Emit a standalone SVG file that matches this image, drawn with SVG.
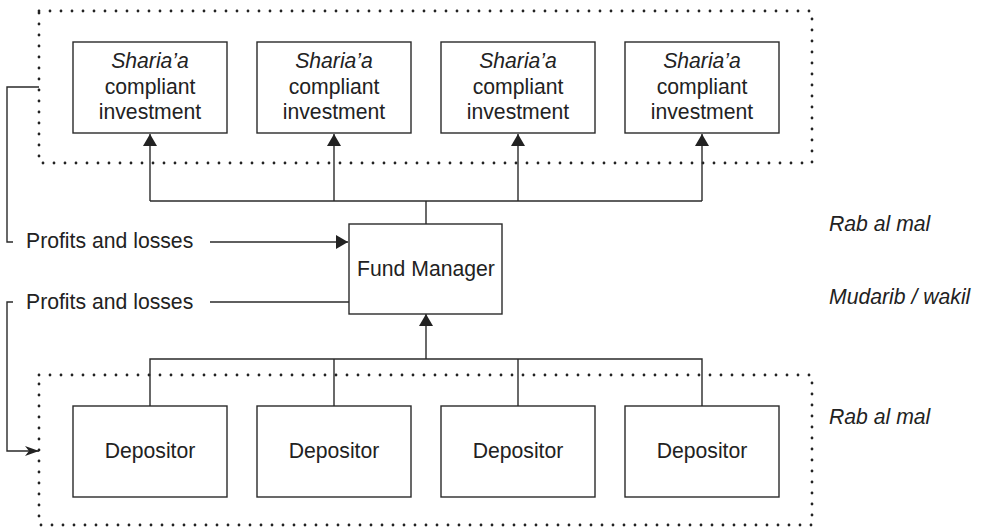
<svg xmlns="http://www.w3.org/2000/svg" width="982" height="527" viewBox="0 0 982 527">
  <style>
    text { font-family: "Liberation Sans", Arial, Helvetica, sans-serif; font-size: 21.2px; fill: #222; }
    .it { font-style: italic; }
    .box { fill: #fff; stroke: #2a2a2a; stroke-width: 1.4; }
    .dots { fill: none; stroke: #222; stroke-width: 2.8; stroke-linecap: round; stroke-dasharray: 0 11; }
    .line { fill: none; stroke: #2a2a2a; stroke-width: 1.4; }
  </style>
  <defs>
    <marker id="arrow" viewBox="0 0 12 14" refX="12" refY="7" markerWidth="12" markerHeight="14" markerUnits="userSpaceOnUse" orient="auto">
      <path d="M0,0 L12,7 L0,14 Z" fill="#222"/>
    </marker>
    <marker id="arrowSmall" viewBox="0 0 14 10" refX="14" refY="5" markerWidth="14" markerHeight="10" markerUnits="userSpaceOnUse" orient="auto">
      <path d="M0,0 L14,5 L0,10 L4,5 Z" fill="#222"/>
    </marker>
  </defs>

  <!-- dotted groupings -->
  <g id="investments-group">
    <path class="dots" d="M39,11 H812 V163 H39 Z"/>
  </g>
  <g id="depositors-group">
    <path class="dots" d="M39,375 H812 V525 H39 Z"/>
  </g>

  <!-- connectors -->
  <g id="connectors">
    <path class="line" d="M150,201 H702"/>
    <path class="line" d="M426,224 V201"/>
    <path class="line" d="M150,201 V134" marker-end="url(#arrow)"/>
    <path class="line" d="M334,201 V134" marker-end="url(#arrow)"/>
    <path class="line" d="M518,201 V134" marker-end="url(#arrow)"/>
    <path class="line" d="M702,201 V134" marker-end="url(#arrow)"/>

    <path class="line" d="M150,406 V359 H702 V406"/>
    <path class="line" d="M334,406 V359"/>
    <path class="line" d="M518,406 V359"/>
    <path class="line" d="M426,359 V314" marker-end="url(#arrow)"/>

    <path class="line" d="M210,242 H348" marker-end="url(#arrow)"/>
    <path class="line" d="M210,302 H349"/>

    <path class="line" d="M39,87 H7 V242 H13"/>
    <path class="line" d="M13,302 H7 V451 H39" marker-end="url(#arrowSmall)"/>
  </g>

  <!-- investments -->
  <g id="investment-1">
    <rect class="box" x="73" y="42" width="154" height="91"/>
    <text x="150" y="68" text-anchor="middle"><tspan class="it">Sharia’a</tspan></text>
    <text x="150" y="94" text-anchor="middle">compliant</text>
    <text x="150" y="119" text-anchor="middle">investment</text>
  </g>
  <g id="investment-2">
    <rect class="box" x="257" y="42" width="154" height="91"/>
    <text x="334" y="68" text-anchor="middle"><tspan class="it">Sharia’a</tspan></text>
    <text x="334" y="94" text-anchor="middle">compliant</text>
    <text x="334" y="119" text-anchor="middle">investment</text>
  </g>
  <g id="investment-3">
    <rect class="box" x="441" y="42" width="154" height="91"/>
    <text x="518" y="68" text-anchor="middle"><tspan class="it">Sharia’a</tspan></text>
    <text x="518" y="94" text-anchor="middle">compliant</text>
    <text x="518" y="119" text-anchor="middle">investment</text>
  </g>
  <g id="investment-4">
    <rect class="box" x="625" y="42" width="154" height="91"/>
    <text x="702" y="68" text-anchor="middle"><tspan class="it">Sharia’a</tspan></text>
    <text x="702" y="94" text-anchor="middle">compliant</text>
    <text x="702" y="119" text-anchor="middle">investment</text>
  </g>

  <!-- fund manager -->
  <g id="fund-manager">
    <rect class="box" x="349" y="224" width="153" height="90"/>
    <text x="426" y="276" text-anchor="middle">Fund Manager</text>
  </g>

  <!-- depositors -->
  <g id="depositor-1">
    <rect class="box" x="73" y="406" width="154" height="91"/>
    <text x="150" y="458" text-anchor="middle">Depositor</text>
  </g>
  <g id="depositor-2">
    <rect class="box" x="257" y="406" width="154" height="91"/>
    <text x="334" y="458" text-anchor="middle">Depositor</text>
  </g>
  <g id="depositor-3">
    <rect class="box" x="441" y="406" width="154" height="91"/>
    <text x="518" y="458" text-anchor="middle">Depositor</text>
  </g>
  <g id="depositor-4">
    <rect class="box" x="625" y="406" width="154" height="91"/>
    <text x="702" y="458" text-anchor="middle">Depositor</text>
  </g>

  <!-- flow labels -->
  <g id="label-profits-in">
    <text x="26" y="248">Profits and losses</text>
  </g>
  <g id="label-profits-out">
    <text x="26" y="309">Profits and losses</text>
  </g>

  <!-- role labels -->
  <g id="role-labels">
    <text class="it" x="829" y="231">Rab al mal</text>
    <text class="it" x="829" y="304">Mudarib / wakil</text>
    <text class="it" x="829" y="424">Rab al mal</text>
  </g>
</svg>
